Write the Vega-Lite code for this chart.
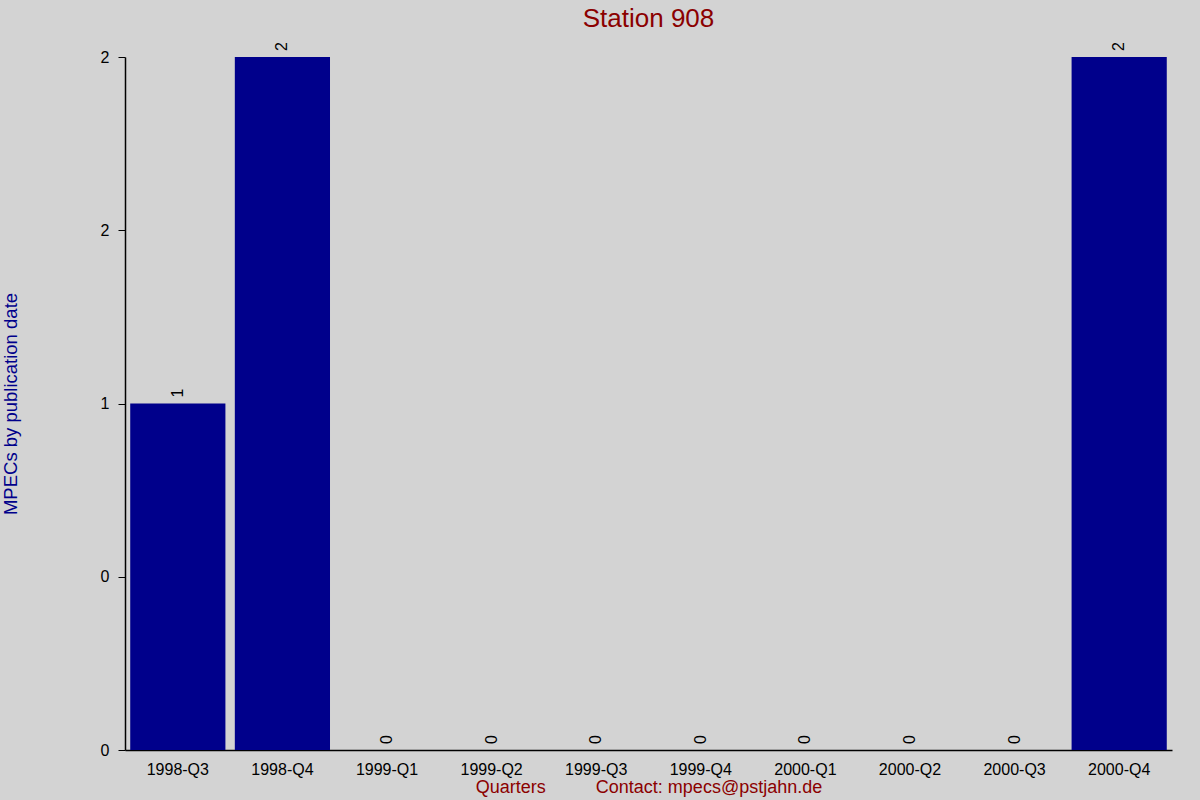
{
  "$schema": "https://vega.github.io/schema/vega-lite/v6.json",
  "width": 1047,
  "height": 693,
  "autosize": "none",
  "padding": {"left": 125, "top": 57, "right": 28, "bottom": 50},
  "background": "#d3d3d3",
  "config": {
    "view": {"stroke": null},
    "font": "Liberation Sans"
  },
  "title": {
    "text": "Station 908",
    "fontSize": 26,
    "fontWeight": "normal",
    "color": "#8b0000",
    "anchor": "middle",
    "offset": 10
  },
  "data": {
    "values": [
      {"quarter": "1998-Q3", "mpecs": 1},
      {"quarter": "1998-Q4", "mpecs": 2},
      {"quarter": "1999-Q1", "mpecs": 0},
      {"quarter": "1999-Q2", "mpecs": 0},
      {"quarter": "1999-Q3", "mpecs": 0},
      {"quarter": "1999-Q4", "mpecs": 0},
      {"quarter": "2000-Q1", "mpecs": 0},
      {"quarter": "2000-Q2", "mpecs": 0},
      {"quarter": "2000-Q3", "mpecs": 0},
      {"quarter": "2000-Q4", "mpecs": 2}
    ]
  },
  "encoding": {
    "x": {
      "field": "quarter",
      "type": "nominal",
      "sort": null,
      "scale": {"paddingInner": 0.09, "paddingOuter": 0.05},
      "axis": {
        "title": "Quarters\u00a0\u00a0\u00a0\u00a0\u00a0\u00a0\u00a0\u00a0\u00a0\u00a0Contact: mpecs@pstjahn.de",
        "titleColor": "#8b0000",
        "titleFontSize": 18,
        "titleFontWeight": "normal",
        "titlePadding": 1,
        "labelAngle": 0,
        "labelFontSize": 16,
        "labelColor": "#000000",
        "labelPadding": 11,
        "ticks": false,
        "domainColor": "#000000",
        "domainWidth": 1.5
      }
    },
    "y": {
      "field": "mpecs",
      "type": "quantitative",
      "scale": {"domain": [0, 2], "nice": false},
      "axis": {
        "title": "MPECs by publication date",
        "titleColor": "#00008b",
        "titleFontSize": 18.5,
        "titleFontWeight": "normal",
        "titlePadding": 80,
        "values": [0, 0.5, 1, 1.5, 2],
        "labelExpr": "datum.value == 0.5 ? '0' : format(datum.value, '.0f')",
        "labelFontSize": 16,
        "labelColor": "#000000",
        "labelPadding": 9,
        "tickSize": 7,
        "tickColor": "#000000",
        "domainColor": "#000000",
        "domainWidth": 1.5,
        "grid": false
      }
    }
  },
  "layer": [
    {
      "mark": {"type": "bar", "color": "#00008b"}
    },
    {
      "mark": {
        "type": "text",
        "angle": 270,
        "align": "left",
        "baseline": "middle",
        "dx": 6,
        "fontSize": 16,
        "color": "#000000"
      },
      "encoding": {"text": {"field": "mpecs", "type": "quantitative"}}
    }
  ]
}
